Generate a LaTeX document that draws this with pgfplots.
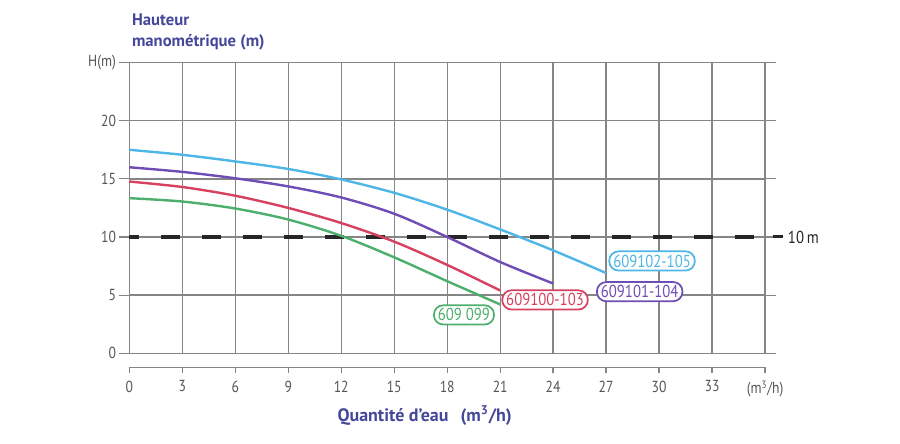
\documentclass[border=0pt]{standalone}
\usepackage{pgfplots}
\pgfplotsset{compat=1.18}
\usepackage{fontspec}
\setmainfont{PT Sans}
\newfontfamily\cond{PT Sans}[FakeStretch=0.85]
\definecolor{gridc}{HTML}{858585}
\definecolor{titc}{HTML}{45479A}
\definecolor{cyanc}{HTML}{4DB6E6}
\definecolor{purc}{HTML}{6E4DB5}
\definecolor{redc}{HTML}{D7405E}
\definecolor{grnc}{HTML}{4CAF6B}
\definecolor{tickc}{HTML}{555555}
\begin{document}
\begin{tikzpicture}
\begin{axis}[name=main,
  scale only axis, width=476.8pt, height=218pt,
  xmin=0, xmax=36, ymin=0, ymax=25,
  xtick={0,3,...,36}, xticklabels={}, xtick style={draw=none},
  ytick={0,5,10,15,20,25}, yticklabels={0,5,10,15,20,H(m)},
  ytick style={draw=gridc, line width=0.9pt},
  tick align=outside, major tick length=8pt,
  yticklabel style={xshift=1.5pt, text=tickc},
  ticklabel style={font=\cond\fontsize{12}{12}\selectfont},
  /pgf/number format/assume math mode=true,
  grid=major, grid style={gridc, line width=1pt},
  axis line style={gridc, line width=1pt},
  clip=false]
\addplot[black!85, line width=2.6pt, dash pattern=on 14.25pt off 16.5pt, dash phase=6.75pt]
  coordinates {(0,10) (35.4,10)};
\addplot[grnc, line width=1.8pt, smooth] coordinates {
 (0,13.34) (3,13.05) (6,12.45) (9,11.5) (12,10.1) (15,8.25) (18,6.2) (21,4.2)};
\addplot[redc, line width=1.8pt, smooth] coordinates {
 (0,14.77) (3,14.3) (6,13.55) (9,12.5) (12,11.2) (15,9.6) (18,7.6) (21,5.4)};
\addplot[purc, line width=1.8pt, smooth] coordinates {
 (0,16.0) (3,15.6) (6,15.05) (9,14.35) (12,13.4) (15,12.0) (18,10.0) (21,7.85) (24,6.0)};
\addplot[cyanc, line width=1.8pt, smooth] coordinates {
 (0,17.5) (3,17.07) (6,16.5) (9,15.85) (12,14.95) (15,13.8) (18,12.35) (21,10.65) (24,8.85) (27,6.9)};
\tikzset{lab/.style={draw=#1, text=#1, fill=white, rounded corners=7pt, line width=1.3pt,
  inner xsep=3pt, inner ysep=2.5pt, font=\cond\fontsize{13}{13}\selectfont}}
\node[lab=cyanc] at (axis cs:29.6,7.94) {609102-105};
\node[lab=purc] at (axis cs:28.9,5.3) {609101-104};
\node[lab=redc] at (axis cs:23.54,4.59) {609100-103};
\node[lab=grnc] at (axis cs:18.95,3.3) {609 099};
\node[anchor=west, font=\cond\fontsize{13}{13}\selectfont, text=black!85, inner sep=0pt]
  at (axis cs:36,10) {\hspace{6pt}\rule[0.28em]{7.5pt}{2.4pt}\hspace{3.5pt}10\,m};
\end{axis}
\begin{axis}[at={(main.south west)}, anchor=north west,
  scale only axis, width=476.8pt, height=10.5pt,
  xmin=0, xmax=36, ymin=0, ymax=1,
  axis x line*=bottom, axis y line=none,
  xtick={0,3,...,36},
  xticklabels={0,3,6,9,12,15,18,21,24,27,30,33,{(m\textsuperscript{3}/h)}},
  tick align=outside, major tick length=4.5pt,
  xtick style={draw=gridc, line width=1pt},
  axis line style={gridc, line width=1pt, -},
  xticklabel style={text=tickc, font=\cond\fontsize{12}{12}\selectfont, yshift=-2pt},
  /pgf/number format/assume math mode=true]
\addplot[draw=none] coordinates {(0,0.5)};
\end{axis}
\node[anchor=base west, text=titc, font=\bfseries\fontsize{12.5}{12.5}\selectfont, inner sep=0pt]
  at ([shift={(1.8pt,245.5pt)}]main.south west) {Hauteur};
\node[anchor=base west, text=titc, font=\bfseries\fontsize{12.5}{12.5}\selectfont, inner sep=0pt]
  at ([shift={(1.8pt,229.7pt)}]main.south west) {manométrique (m)};
\node[anchor=base, text=titc, font=\bfseries\fontsize{13.5}{13.5}\selectfont, inner sep=0pt]
  at ([shift={(221.5pt,-51pt)}]main.south west) {Quantité d'eau\hspace{9pt}(m\textsuperscript{3}/h)};
\pgfresetboundingbox
\path ([shift={(-97pt,-67.3pt)}]main.south west) rectangle ++(675pt,332.25pt);
\end{tikzpicture}
\end{document}
